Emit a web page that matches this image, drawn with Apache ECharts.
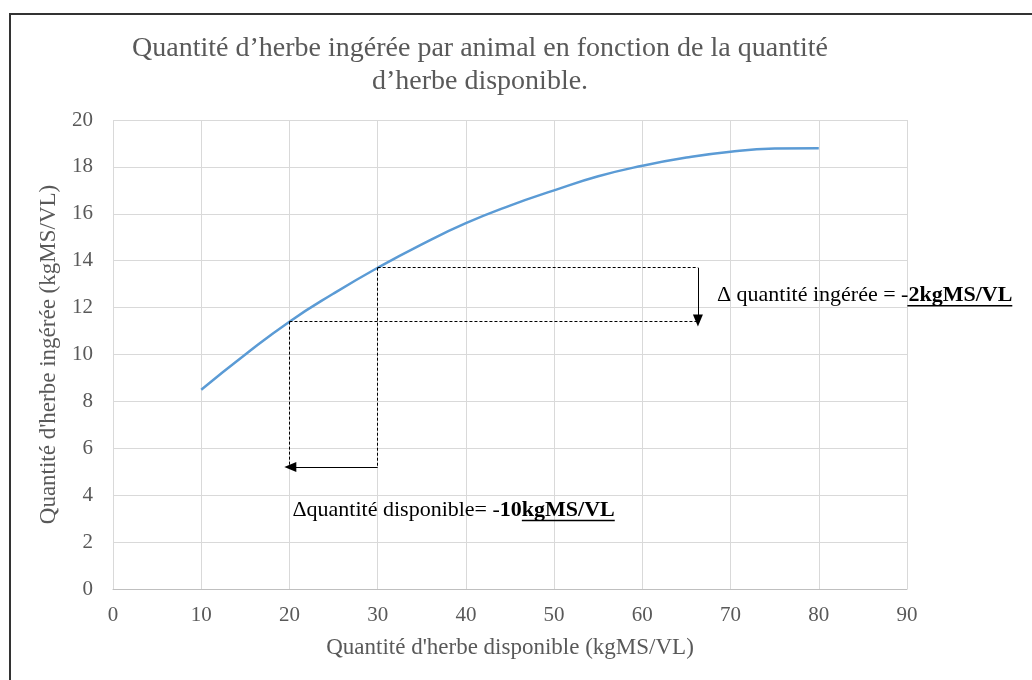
<!DOCTYPE html>
<html>
<head>
<meta charset="utf-8">
<script src="https://cdn.jsdelivr.net/npm/echarts@6/dist/echarts.min.js"></script>
<style>html,body{margin:0;padding:0;background:#fff;}#c{width:1032px;height:680px;}</style>
</head>
<body>
<div id="c"></div>
<script>
// Data
var herbeDisponible = [10, 15, 20, 25, 30, 35, 40, 45, 50, 55, 60, 65, 70, 75, 80];
var herbeIngeree    = [8.5, 10.0, 11.4, 12.6, 13.7, 14.7, 15.6, 16.35, 17.0, 17.6, 18.05, 18.4, 18.65, 18.78, 18.8];
var xTicks = [0, 10, 20, 30, 40, 50, 60, 70, 80, 90];
var yTicks = [0, 2, 4, 6, 8, 10, 12, 14, 16, 18, 20];
// Annotation construction values
var pointA = [20, 11.4];
var pointB = [30, 13.7];
var arrowY = 5.2;      // level of horizontal arrow
var guideEndX = 66.3;  // end of horizontal dashed guides / vertical arrow

var titleText = 'Quantité d\u2019herbe ingérée par animal en fonction de la quantité\nd\u2019herbe disponible.';
var xName = "Quantité d'herbe disponible (kgMS/VL)";
var yName = "Quantité d'herbe ingérée (kgMS/VL)";

var FONT = '"Liberation Serif", "Times New Roman", serif';
var grey = '#595959';

var chart = echarts.init(document.getElementById('c'), null, {renderer: 'canvas'});

var dashed = {color: '#000', type: [3, 2], width: 1};
var solid = {color: '#000', type: 'solid', width: 1};

var option = {
  animation: false,
  backgroundColor: '#fff',
  title: {
    text: titleText,
    left: 475, top: 27, textAlign: 'center',
    textStyle: {fontFamily: FONT, fontSize: 28, fontWeight: 'normal', color: grey, lineHeight: 33, align: 'center'}
  },
  grid: {left: 113, right: 125, top: 120, bottom: 91, containLabel: false},
  xAxis: {
    type: 'value', min: 0, max: 90, interval: 10,
    name: xName, nameLocation: 'middle', nameGap: 47,
    nameTextStyle: {fontFamily: FONT, fontSize: 23, color: grey},
    axisLine: {show: true, lineStyle: {color: '#bfbfbf', width: 1}},
    axisTick: {show: false},
    axisLabel: {fontFamily: FONT, fontSize: 21, color: grey, margin: 16},
    splitLine: {show: true, lineStyle: {color: '#d9d9d9', width: 1}}
  },
  yAxis: {
    type: 'value', min: 0, max: 20, interval: 2,
    name: yName, nameLocation: 'middle', nameGap: 53, nameRotate: 90,
    nameTextStyle: {fontFamily: FONT, fontSize: 23, color: grey},
    axisLine: {show: false},
    axisTick: {show: false},
    axisLabel: {fontFamily: FONT, fontSize: 21, color: grey, margin: 20},
    splitLine: {show: true, lineStyle: {color: '#d9d9d9', width: 1}}
  },
  series: [{
    type: 'line',
    data: herbeDisponible.map(function (x, i) { return [x, herbeIngeree[i]]; }),
    smooth: 0.5,
    symbol: 'none',
    lineStyle: {color: '#5b9bd5', width: 2.5},
    z: 3,
    markLine: {
      silent: true,
      symbol: ['none', 'none'],
      label: {show: false},
      lineStyle: dashed,
      data: [
        [{coord: [pointA[0], pointA[1]], lineStyle: dashed}, {coord: [pointA[0], arrowY]}],
        [{coord: [pointB[0], pointB[1]], lineStyle: dashed}, {coord: [pointB[0], arrowY]}],
        [{coord: [pointB[0], pointB[1]], lineStyle: dashed}, {coord: [guideEndX, pointB[1]]}],
        [{coord: [pointA[0], pointA[1]], lineStyle: dashed}, {coord: [guideEndX, pointA[1]]}],
        [{coord: [pointB[0], arrowY], lineStyle: solid, symbol: 'none'}, {coord: [pointA[0] + 0.1, arrowY], symbol: 'triangle', symbolSize: [10, 12], symbolRotate: 90}],
        [{coord: [guideEndX, pointB[1]], lineStyle: solid, symbol: 'none'}, {coord: [guideEndX, pointA[1] + 0.05], symbol: 'triangle', symbolSize: [10, 12], symbolRotate: 180}]
      ]
    }
  }],
  graphic: []
};

chart.setOption(option);

// Annotation texts, positioned from the data coordinates
function measure(txt, weight, size) {
  var c = document.createElement('canvas').getContext('2d');
  c.font = weight + ' ' + size + 'px ' + FONT;
  return c.measureText(txt).width;
}
var fs = 22;
var p1 = chart.convertToPixel({gridIndex: 0}, [guideEndX, (pointA[1] + pointB[1]) / 2]);
var t1x = p1[0] + 19, t1y = p1[1] + 1;
var p2 = chart.convertToPixel({gridIndex: 0}, [pointA[0], arrowY - 1.85]);
var t2x = p2[0] + 3, t2y = p2[1];

var a1 = '\u0394 quantité ingérée = -';
var b1 = '2kgMS/VL';
var a2 = '\u0394quantité disponible= -';
var b2a = '10';
var b2b = 'kgMS/VL';
var w_a1 = measure(a1, 'normal', fs), w_b1 = measure(b1, 'bold', fs);
var w_a2 = measure(a2, 'normal', fs), w_b2a = measure(b2a, 'bold', fs), w_b2b = measure(b2b, 'bold', fs);

var graphics = [
  {type: 'rect', shape: {x: 10, y: 14, width: 1100, height: 800}, style: {fill: 'none', stroke: '#333', lineWidth: 2}, silent: true, z: 10},
  {type: 'text', x: t1x, y: t1y, style: {text: a1, font: 'normal ' + fs + 'px ' + FONT, fill: '#000', textVerticalAlign: 'middle'}, z: 10},
  {type: 'text', x: t1x + w_a1, y: t1y, style: {text: b1, font: 'bold ' + fs + 'px ' + FONT, fill: '#000', textVerticalAlign: 'middle'}, z: 10},
  {type: 'line', shape: {x1: t1x + w_a1 - 1, y1: t1y + 10, x2: t1x + w_a1 + w_b1, y2: t1y + 10}, style: {stroke: '#000', lineWidth: 1.5}, z: 10},
  {type: 'text', x: t2x, y: t2y, style: {text: a2, font: 'normal ' + fs + 'px ' + FONT, fill: '#000', textVerticalAlign: 'middle'}, z: 10},
  {type: 'text', x: t2x + w_a2, y: t2y, style: {text: b2a + b2b, font: 'bold ' + fs + 'px ' + FONT, fill: '#000', textVerticalAlign: 'middle'}, z: 10},
  {type: 'line', shape: {x1: t2x + w_a2 + w_b2a, y1: t2y + 10, x2: t2x + w_a2 + w_b2a + w_b2b, y2: t2y + 10}, style: {stroke: '#000', lineWidth: 1.5}, z: 10}
];
chart.setOption({graphic: graphics});
</script>
</body>
</html>
